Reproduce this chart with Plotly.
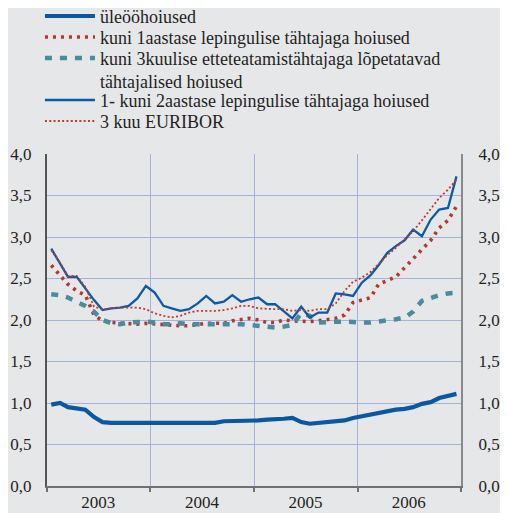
import plotly.graph_objects as go

# ---- data (monthly, Jan 2003 - Dec 2006) ----
years = ["2003", "2004", "2005", "2006"]
month_nums = list(range(1, 13))

series_names = [
    "üleööhoiused",
    "kuni 1aastase lepingulise tähtajaga hoiused",
    "kuni 3kuulise etteteatamistähtajaga lõpetatavad<br>tähtajalised hoiused",
    "1- kuni 2aastase lepingulise tähtajaga hoiused",
    "3 kuu EURIBOR",
]

overnight = [0.98, 1.00, 0.95, 0.93, 0.92, 0.83, 0.77, 0.76, 0.76, 0.76, 0.76, 0.75,
             0.75, 0.76, 0.75, 0.76, 0.76, 0.76, 0.75, 0.76, 0.78, 0.78, 0.78, 0.79,
             0.79, 0.80, 0.80, 0.81, 0.82, 0.77, 0.75, 0.76, 0.77, 0.77, 0.79, 0.82,
             0.84, 0.86, 0.89, 0.90, 0.92, 0.93, 0.95, 0.99, 1.01, 1.06, 1.08, 1.11]

upto_1y = [2.66, 2.54, 2.43, 2.35, 2.30, 2.06, 1.99, 1.97, 1.96, 1.95, 1.95, 1.96,
           1.95, 1.94, 1.94, 1.93, 1.93, 1.95, 1.96, 1.96, 1.96, 1.99, 2.00, 2.02,
           2.00, 1.97, 1.97, 2.00, 1.99, 1.98, 1.98, 1.99, 2.00, 2.02, 2.06, 2.21,
           2.24, 2.27, 2.43, 2.47, 2.52, 2.63, 2.74, 2.86, 2.96, 3.11, 3.20, 3.37]

notice_3m = [2.31, 2.30, 2.27, 2.22, 2.17, 2.10, 2.00, 1.96, 1.95, 1.97, 1.98, 1.98,
             1.97, 1.95, 1.95, 1.96, 1.95, 1.95, 1.95, 1.95, 1.96, 1.96, 1.95, 1.94,
             1.93, 1.92, 1.91, 1.92, 1.94, 2.08, 2.05, 1.97, 1.98, 1.98, 1.98, 1.97,
             1.97, 1.97, 1.98, 1.99, 2.01, 2.03, 2.10, 2.23, 2.27, 2.30, 2.32, 2.33]

y1_to_2 = [2.86, 2.68, 2.52, 2.52, 2.38, 2.24, 2.12, 2.14, 2.15, 2.17, 2.26, 2.41,
           2.33, 2.17, 2.14, 2.11, 2.13, 2.20, 2.29, 2.20, 2.22, 2.30, 2.22, 2.25,
           2.27, 2.19, 2.19, 2.10, 2.02, 2.16, 2.03, 2.09, 2.09, 2.32, 2.31, 2.29,
           2.45, 2.54, 2.66, 2.81, 2.89, 2.96, 3.09, 3.01, 3.21, 3.33, 3.35, 3.73]

euribor = [2.84, 2.69, 2.53, 2.53, 2.40, 2.16, 2.13, 2.14, 2.15, 2.15, 2.15, 2.13,
           2.08, 2.05, 2.03, 2.05, 2.09, 2.11, 2.11, 2.11, 2.12, 2.14, 2.17, 2.17,
           2.14, 2.13, 2.13, 2.13, 2.11, 2.12, 2.11, 2.13, 2.13, 2.20, 2.35, 2.46,
           2.51, 2.58, 2.68, 2.78, 2.87, 2.97, 3.07, 3.20, 3.34, 3.47, 3.57, 3.69]

y_ticks = [0, 0.5, 1.0, 1.5, 2.0, 2.5, 3.0, 3.5, 4.0]

# month mid-points as dates
dates = [f"{y}-{m:02d}-16" for y in years for m in month_nums]
year_mid = [f"{y}-07-01" for y in years]
year_starts = [f"{y}-01-01" for y in years] + ["2007-01-01"]

BG = "#e6e7e9"
GRID = "#a5b2db"
TXT = "#231f20"
FONT = "Liberation Serif"

series = [
    (overnight, dict(color="#0a57a2", width=4.2)),
    (upto_1y, dict(color="#b5362d", width=3.6, dash="3px,5px")),
    (notice_3m, dict(color="#4a8b9c", width=4.5, dash="7px,8px")),
    (y1_to_2, dict(color="#0b5aa5", width=2.3)),
    (euribor, dict(color="#c0392b", width=1.8, dash="2px,2.3px")),
]
legend_ids = ["legend", "legend2", "legend3", "legend4", "legend5"]
legend_tops = [1.4705, 1.4072, 1.3440, 1.2175, 1.1542]

fig = go.Figure()
for name, (vals, line), lid in zip(series_names, series, legend_ids):
    fig.add_trace(go.Scatter(x=dates, y=vals, name=name, mode="lines",
                             line=line, legend=lid))
# empty trace to anchor right-hand axis
fig.add_trace(go.Scatter(x=[], y=[], yaxis="y2", showlegend=False, hoverinfo="skip"))

legend_style = dict(x=-0.017, xanchor="left", yanchor="top", valign="top",
                    bgcolor="rgba(0,0,0,0)",
                    font=dict(family=FONT, size=18, color=TXT),
                    itemwidth=50, tracegroupgap=0)
legends = {lid: dict(legend_style, y=yt) for lid, yt in zip(legend_ids, legend_tops)}

fig.update_layout(
    width=500, height=505,
    margin=dict(l=39, r=47, t=146, b=27, autoexpand=False),
    paper_bgcolor=BG, plot_bgcolor=BG,
    separators=", ",
    font=dict(family=FONT, size=17, color=TXT),
    showlegend=True,
    **legends,
    xaxis=dict(
        type="date",
        range=["2003-01-01", "2007-01-01"],
        tickmode="array", tickvals=year_mid, ticktext=years,
        ticks="", showgrid=False, zeroline=False,
        showline=True, linecolor="#707070", linewidth=2,
        tickfont=dict(family=FONT, size=17, color=TXT),
        minor=dict(tickmode="array", tickvals=year_starts,
                   ticks="outside", ticklen=4, tickwidth=1.5, tickcolor="#707070",
                   showgrid=True, gridcolor=GRID, gridwidth=1.3),
        fixedrange=True,
    ),
    yaxis=dict(
        range=[0, 4], tickmode="array", tickvals=y_ticks, tickformat=".1f",
        showgrid=True, gridcolor=GRID, gridwidth=1.3, zeroline=False,
        showline=True, linecolor="#555555", linewidth=2,
        ticks="", ticklabelstandoff=10,
        tickfont=dict(family=FONT, size=17, color=TXT),
    ),
    yaxis2=dict(
        range=[0, 4], overlaying="y", side="right", tickmode="array",
        tickvals=y_ticks, tickformat=".1f", showgrid=False, zeroline=False,
        showline=True, linecolor="#8a8a8a", linewidth=2,
        ticks="", ticklabelstandoff=12,
        tickfont=dict(family=FONT, size=17, color=TXT),
    ),
)

fig.write_html("out.html")
